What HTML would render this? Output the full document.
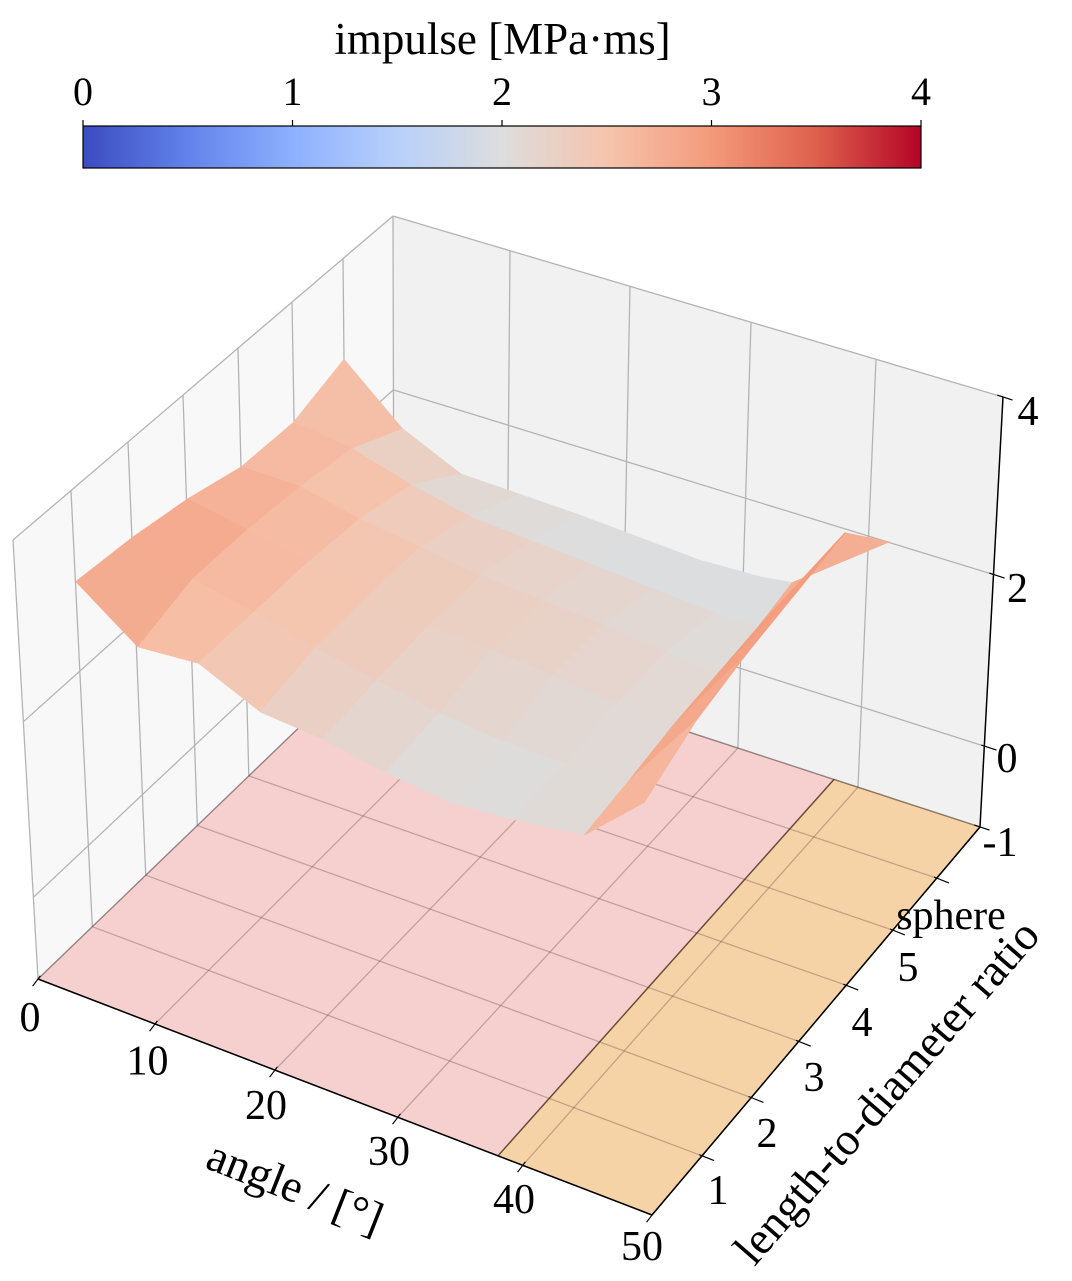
<!DOCTYPE html>
<html><head><meta charset="utf-8">
<style>
html,body{margin:0;padding:0;background:#fff;}
svg{display:block;}
text{font-family:"Liberation Serif","Times New Roman",serif;fill:#000;}
</style></head>
<body>
<svg id="chart" xmlns="http://www.w3.org/2000/svg" width="1072" height="1281" viewBox="0 0 1072 1281">
<defs>
<linearGradient id="cw" x1="0" y1="0" x2="1" y2="0">
<stop offset="0" stop-color="#3B4CC0"/>
<stop offset="0.125" stop-color="#6282EA"/>
<stop offset="0.25" stop-color="#8DB0FE"/>
<stop offset="0.375" stop-color="#B8D0F9"/>
<stop offset="0.5" stop-color="#DDDDDD"/>
<stop offset="0.625" stop-color="#F5C4AD"/>
<stop offset="0.75" stop-color="#F49A7B"/>
<stop offset="0.875" stop-color="#DE604D"/>
<stop offset="1" stop-color="#B40426"/>
</linearGradient>
</defs>

<!-- colorbar -->
<text x="502.5" y="54" font-size="45" text-anchor="middle">impulse [MPa·ms]</text>
<rect x="83" y="126" width="838" height="42" fill="url(#cw)" stroke="#000" stroke-width="1.2"/>
<g stroke="#000" stroke-width="1.2">
<line x1="83" y1="120" x2="83" y2="126"/><line x1="292.5" y1="120" x2="292.5" y2="126"/>
<line x1="502" y1="120" x2="502" y2="126"/><line x1="711.5" y1="120" x2="711.5" y2="126"/>
<line x1="921" y1="120" x2="921" y2="126"/>
</g>
<g font-size="40" text-anchor="middle">
<text x="83" y="105">0</text><text x="292.5" y="105">1</text><text x="502" y="105">2</text>
<text x="711.5" y="105">3</text><text x="921" y="105">4</text>
</g>

<!-- panes -->
<polygon points="38,979 13,540 393,216 394,636" fill="#F8F8F8"/>
<polygon points="394,636 393,216 1003,397 980,827" fill="#F1F1F1"/>

<!-- pane gridlines -->
<g stroke="#B4B4B4" stroke-width="1.3" fill="none">
<line x1="13" y1="540" x2="38" y2="979"/>
<line x1="71" y1="490.6" x2="92.3" y2="926.7"/>
<line x1="128" y1="442" x2="145.7" y2="875.2"/>
<line x1="183" y1="395" x2="197.3" y2="825.5"/>
<line x1="238" y1="348.2" x2="248.8" y2="775.9"/>
<line x1="292" y1="302.1" x2="299.4" y2="727.2"/>
<line x1="343" y1="258.6" x2="347.2" y2="681.1"/>
<line x1="393" y1="216" x2="394" y2="636"/>
<line x1="13" y1="540" x2="393" y2="216"/>
<line x1="23.4" y1="721.7" x2="393.4" y2="389.9"/>
<line x1="33.4" y1="897.3" x2="393.8" y2="557.9"/>
<line x1="393" y1="216" x2="1003" y2="397"/>
<line x1="510" y1="250.7" x2="506.4" y2="672.6"/>
<line x1="630" y1="286.3" x2="621.7" y2="710.2"/>
<line x1="751" y1="322.2" x2="737.9" y2="748.1"/>
<line x1="876" y1="359.3" x2="858" y2="787.2"/>
<line x1="393.4" y1="389.9" x2="995" y2="575"/>
<line x1="393.8" y1="557.9" x2="987" y2="747"/>
</g>

<!-- floor -->
<polygon points="38,979 498,1155.8 834,779.4 394,636" fill="#F6D0CF"/>
<polygon points="498,1155.8 652,1215 980,827 834,779.4" fill="#F6D3A7"/>
<g stroke="rgba(90,60,60,0.32)" stroke-width="1.3">
<line x1="155" y1="1024" x2="506.4" y2="672.6"/>
<line x1="275" y1="1070" x2="621.7" y2="710.2"/>
<line x1="398" y1="1117" x2="737.9" y2="748.1"/>
<line x1="523" y1="1165" x2="858" y2="787.2"/>
<line x1="92.3" y1="926.7" x2="702" y2="1155.8"/>
<line x1="145.7" y1="875.2" x2="751.3" y2="1097.6"/>
<line x1="197.3" y1="825.5" x2="798.7" y2="1041.4"/>
<line x1="248.8" y1="775.9" x2="846.2" y2="985.3"/>
<line x1="299.4" y1="727.2" x2="892.8" y2="930.1"/>
<line x1="347.2" y1="681.1" x2="936.8" y2="878.1"/>
</g>
<polygon points="38,979 498,1155.8 834,779.4 394,636" fill="none" stroke="rgba(70,50,50,0.55)" stroke-width="1.4"/>
<polygon points="498,1155.8 652,1215 980,827 834,779.4" fill="none" stroke="rgba(70,45,20,0.6)" stroke-width="1.4"/>

<!-- surface -->
<g id="surf"></g>

<!-- axes -->
<g stroke="#000" stroke-width="1.5" fill="none">
<line x1="38" y1="979" x2="652" y2="1215"/>
<line x1="652" y1="1215" x2="980" y2="827"/>
<line x1="980" y1="827" x2="1003" y2="397"/>
</g>
<g stroke="#000" stroke-width="1.2">
<line x1="40.4" y1="975.8" x2="32.6" y2="986.2"/>
<line x1="157.4" y1="1020.8" x2="149.6" y2="1031.2"/>
<line x1="277.4" y1="1066.8" x2="269.6" y2="1077.2"/>
<line x1="400.4" y1="1113.8" x2="392.6" y2="1124.2"/>
<line x1="525.4" y1="1161.8" x2="517.6" y2="1172.2"/>
<line x1="654.4" y1="1211.8" x2="646.6" y2="1222.2"/>
<line x1="699.2" y1="1154.7" x2="714.1" y2="1160.6"/>
<line x1="748.5" y1="1096.5" x2="763.4" y2="1102.4"/>
<line x1="795.9" y1="1040.3" x2="810.8" y2="1046.2"/>
<line x1="843.4" y1="984.2" x2="858.3" y2="990.1"/>
<line x1="890" y1="929" x2="904.9" y2="934.9"/>
<line x1="934" y1="877" x2="948.9" y2="882.9"/>
<line x1="997.3" y1="395.1" x2="1012.5" y2="400.1"/>
<line x1="989.3" y1="573.1" x2="1004.5" y2="578.1"/>
<line x1="981.3" y1="745.1" x2="996.5" y2="750.1"/>
<line x1="974.3" y1="825.1" x2="989.5" y2="830.1"/>
</g>

<!-- tick labels -->
<g font-size="42" text-anchor="middle">
<text x="30" y="1031">0</text>
<text x="147.5" y="1074.5">10</text>
<text x="266" y="1119">20</text>
<text x="389" y="1165">30</text>
<text x="514" y="1213">40</text>
<text x="642" y="1260">50</text>
<text x="718" y="1204">1</text>
<text x="767" y="1147">2</text>
<text x="814" y="1091">3</text>
<text x="862" y="1036">4</text>
<text x="908" y="981">5</text>
<text x="951" y="929">sphere</text>
<text x="1028" y="425">4</text>
<text x="1017.5" y="602">2</text>
<text x="1007" y="772">0</text>
<text x="1000" y="856">-1</text>
</g>
<text font-size="46" text-anchor="middle" transform="translate(294,1190) rotate(21.5)" y="12">angle / [°]</text>
<text font-size="46" text-anchor="middle" transform="translate(889,1094) rotate(-49)" y="12">length-to-diameter ratio</text>
</svg>

<script>
(function(){
var P=[[0,0,-1,38,979],[50,0,-1,652,1215],[50,7,-1,980,827],[0,7,-1,394,636],[0,0,4,13,540],[0,7,4,393,216],[50,7,4,1003,397],
[10,0,-1,155,1024],[20,0,-1,275,1070],[30,0,-1,398,1117],[40,0,-1,523,1165],[50,7,0,987,747],[50,7,2,995,575],
[0,1,4,71,491],[0,2,4,128,442],[0,3,4,183,395],[0,4,4,238,348],[0,5,4,292,302],[0,6,4,343,259],
[30,7,-1,741,748],[40,7,-1,860,788],[10,7,4,510,251],[20,7,4,630,286],[30,7,4,751,322],[40,7,4,876,359],
[0,0,2,23,722],[0,0,0,33,897]];
var n=11,M=[],R=[],i,j,k,r,c;
for(i=0;i<n;i++){var row=[];for(j=0;j<n;j++)row.push(0);M.push(row);R.push(0);}
function addRow(a,b){for(var i=0;i<n;i++){R[i]+=a[i]*b;for(var j=0;j<n;j++)M[i][j]+=a[i]*a[j];}}
P.forEach(function(p){var x=p[0]/50,y=p[1]/7,z=(p[2]+1)/5,u=p[3]/1000,v=p[4]/1000;
addRow([x,y,z,1,0,0,0,0,-u*x,-u*y,-u*z],u);
addRow([0,0,0,0,x,y,z,1,-v*x,-v*y,-v*z],v);});
for(c=0;c<n;c++){var piv=c;for(r=c+1;r<n;r++)if(Math.abs(M[r][c])>Math.abs(M[piv][c]))piv=r;
var t=M[c];M[c]=M[piv];M[piv]=t;t=R[c];R[c]=R[piv];R[piv]=t;
for(r=0;r<n;r++){if(r===c)continue;var f=M[r][c]/M[c][c];for(k=c;k<n;k++)M[r][k]-=f*M[c][k];R[r]-=f*R[c];}}
var m=[];for(i=0;i<n;i++)m.push(R[i]/M[i][i]);
function proj(X,Y,Z){var x=X/50,y=Y/7,z=(Z+1)/5;var w=m[8]*x+m[9]*y+m[10]*z+1;
return [1000*(m[0]*x+m[1]*y+m[2]*z+m[3])/w,1000*(m[4]*x+m[5]*y+m[6]*z+m[7])/w,w];}
var stops=[[59,76,192],[98,130,234],[141,176,254],[184,208,249],[221,221,221],[245,196,173],[244,154,123],[222,96,77],[180,4,38]];
function cmap(v){v=Math.max(0,Math.min(1,v));var s=v*8,i0=Math.min(7,Math.floor(s)),f=s-i0,a=stops[i0],b=stops[i0+1];
return 'rgb('+Math.round(a[0]+(b[0]-a[0])*f)+','+Math.round(a[1]+(b[1]-a[1])*f)+','+Math.round(a[2]+(b[2]-a[2])*f)+')';}
var rat=[1,2,3,4,5,6];
var ANG=[];
var col8=[40.5,40,39.5,39,38.5,37.5];
for(j=0;j<6;j++){ANG.push([0,5,10,15,20,25,30,35,col8[j],45]);}
var Z=[
[3.0,2.5,2.55,2.24,2.18,2.05,1.97,2.02,2.12,2.7],
[2.94,2.7,2.55,2.38,2.25,2.12,2.05,2.03,2.1,3.0],
[2.83,2.7,2.55,2.4,2.3,2.25,2.2,2.12,2.1,3.15],
[2.66,2.65,2.5,2.4,2.3,2.25,2.2,2.12,2.05,3.25],
[2.64,2.55,2.35,2.2,2.15,2.1,2.05,2.0,2.0,3.35],
[2.85,2.25,1.94,1.92,1.9,1.86,1.82,1.85,1.9,2.7]];
var NC=10;
var wB=proj(50,0,-1)[2],wD=proj(0,7,-1)[2],sgn=(wD>wB)?1:-1;
var polys=[];
for(j=0;j<rat.length-1;j++)for(i=0;i<NC-1;i++){
var cs=[[i,j],[i+1,j],[i+1,j+1],[i,j+1]],pts=[],zs=0,ws=0;
cs.forEach(function(q){var zz=Z[q[1]][q[0]];zs+=zz;var p=proj(ANG[q[1]][q[0]],rat[q[1]],zz);ws+=p[2];pts.push(p[0].toFixed(1)+','+p[1].toFixed(1));});
var mz=Math.max(zs/4,1.99);
if(i===NC-2){var z45=(Z[j][NC-1]+Z[j+1][NC-1])/2,z40=(Z[j][NC-2]+Z[j+1][NC-2])/2;mz=0.25*z40+0.75*z45;}
polys.push({d:sgn*ws/4,pts:pts.join(' '),col:cmap(mz/4)});}
polys.sort(function(a,b){return b.d-a.d;});
var g=document.getElementById('surf'),NS='http://www.w3.org/2000/svg';
polys.forEach(function(p){var e=document.createElementNS(NS,'polygon');e.setAttribute('points',p.pts);
e.setAttribute('fill',p.col);e.setAttribute('stroke',p.col);e.setAttribute('stroke-width','0.8');e.setAttribute('stroke-linejoin','round');g.appendChild(e);});
})();
</script>
</body></html>
